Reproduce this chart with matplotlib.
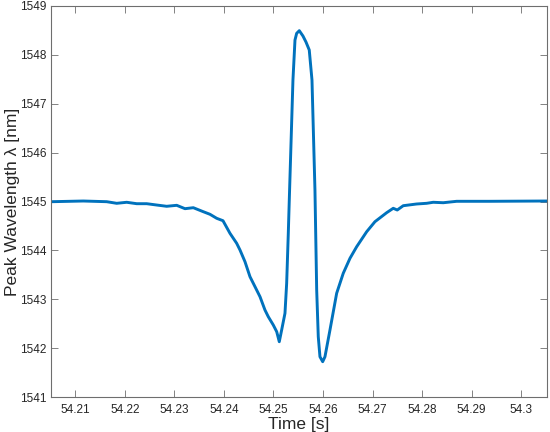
import matplotlib
matplotlib.use("Agg")
import matplotlib.pyplot as plt
from matplotlib.ticker import FormatStrFormatter, FuncFormatter

time_s = [
    54.20525, 54.21162, 54.21634, 54.21836, 54.22038, 54.22240, 54.22441, 54.22643,
    54.22845, 54.23047, 54.23214, 54.23382, 54.23584, 54.23719, 54.23854, 54.23981,
    54.24122, 54.24257, 54.24324, 54.24425, 54.24526, 54.24627, 54.24728, 54.24828,
    54.24895, 54.24996, 54.25065, 54.25117, 54.25165, 54.25232, 54.25266, 54.25299,
    54.25319, 54.25393, 54.25434, 54.25468, 54.25521, 54.25595, 54.25656, 54.25722,
    54.25777, 54.25837, 54.25872, 54.25904, 54.25938, 54.25993, 54.26039, 54.26140,
    54.26275, 54.26408, 54.26544, 54.26679, 54.26881, 54.27048, 54.27284, 54.27417,
    54.27498, 54.27619, 54.27889, 54.28091, 54.28224, 54.28426, 54.28697, 54.29368,
    54.30508,
]
wavelength_nm = [
    1544.996, 1545.010, 1544.996, 1544.963, 1544.984, 1544.955, 1544.955, 1544.928,
    1544.902, 1544.922, 1544.853, 1544.873, 1544.791, 1544.738, 1544.656, 1544.607,
    1544.349, 1544.145, 1544.008, 1543.768, 1543.461, 1543.257, 1543.052, 1542.780,
    1542.643, 1542.473, 1542.336, 1542.131, 1542.371, 1542.713, 1543.326, 1544.349,
    1545.031, 1547.486, 1548.304, 1548.441, 1548.495, 1548.386, 1548.263, 1548.100,
    1547.486, 1545.235, 1543.189, 1542.234, 1541.824, 1541.722, 1541.824, 1542.371,
    1543.122, 1543.531, 1543.838, 1544.075, 1544.382, 1544.587, 1544.771, 1544.861,
    1544.826, 1544.914, 1544.949, 1544.963, 1544.984, 1544.975, 1545.004, 1545.004,
    1545.010,
]
x_ticks = [54.21, 54.22, 54.23, 54.24, 54.25, 54.26, 54.27, 54.28, 54.29, 54.30]
y_ticks = [1541, 1542, 1543, 1544, 1545, 1546, 1547, 1548, 1549]

plt.rcParams['font.family'] = ['Liberation Sans', 'DejaVu Sans']

fig = plt.figure(figsize=(5.5, 4.32), dpi=100)
ax = fig.add_axes([51/550, 35/432, 495.5/550, 391/432])

ax.plot(time_s, wavelength_nm, color='#0072BD', linewidth=2.1,
        solid_joinstyle='round')

ax.set_xlim(54.2051, 54.3051)
ax.set_ylim(1541, 1549)
ax.set_xticks(x_ticks)
ax.set_yticks(y_ticks)
ax.xaxis.set_major_formatter(FuncFormatter(lambda v, p: f"{v:.2f}".rstrip('0')))
ax.yaxis.set_major_formatter(FormatStrFormatter('%d'))

spine_col = '#6e6e6e'
for s in ax.spines.values():
    s.set_color(spine_col)
    s.set_linewidth(0.8)
ax.tick_params(direction='in', length=5, width=0.6, colors=spine_col,
               labelcolor='#262626', labelsize=8.5, top=True, right=True)
ax.tick_params(axis='x', pad=5)
ax.tick_params(axis='y', pad=3)

ax.set_xlabel('Time [s]', fontsize=12.5, color='#262626', labelpad=1)
ax.set_ylabel('Peak Wavelength \u03bb [nm]', fontsize=12.5, color='#262626')
ax.yaxis.set_label_coords(-0.062, 0.5)

fig.savefig('out.png', dpi=100)
